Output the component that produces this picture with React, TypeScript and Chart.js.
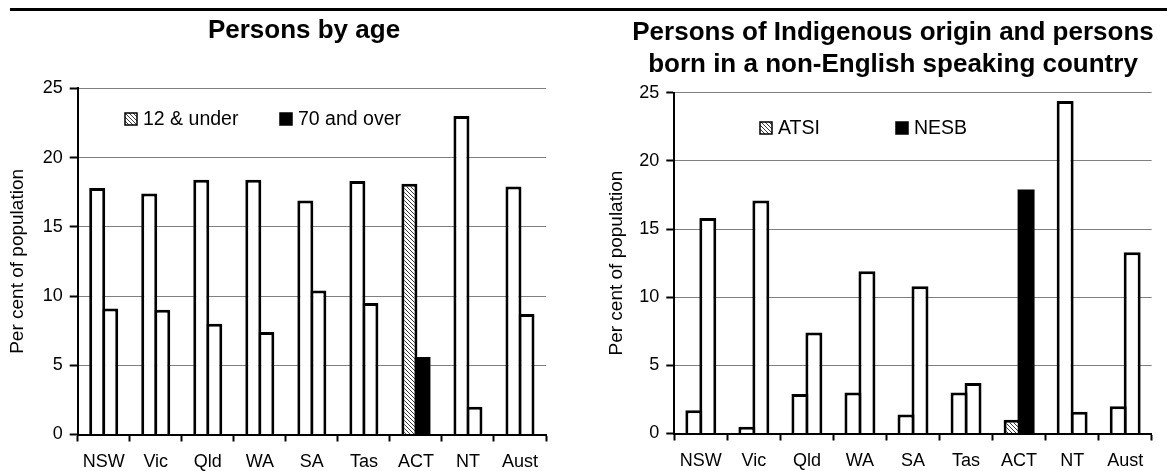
import React, { useEffect, useRef } from 'react';
import { Chart, registerables } from 'chart.js';

Chart.register(...registerables);

// Categories and values (per cent of population)
const STATES = ['NSW', 'Vic', 'Qld', 'WA', 'SA', 'Tas', 'ACT', 'NT', 'Aust'];
const HIGHLIGHT = 'ACT';

const AGE_12_UNDER = [17.8, 17.4, 18.4, 18.4, 16.9, 18.3, 18.1, 23.0, 17.9];
const AGE_70_OVER = [9.1, 9.0, 8.0, 7.4, 10.4, 9.5, 5.6, 2.0, 8.7];

const ATSI = [1.7, 0.5, 2.9, 3.0, 1.4, 3.0, 1.0, 24.4, 2.0];
const NESB = [15.8, 17.1, 7.4, 11.9, 10.8, 3.7, 17.9, 1.6, 13.3];

const Y_MIN = 0;
const Y_MAX = 25;
const Y_STEP = 5;

const FONT = 'Arial, "Liberation Sans", sans-serif';

function makeHatch(): CanvasPattern | string {
  const c = document.createElement('canvas');
  c.width = 4;
  c.height = 4;
  const g = c.getContext('2d');
  if (!g) return '#999';
  g.fillStyle = '#fff';
  g.fillRect(0, 0, 4, 4);
  g.strokeStyle = '#3a3a3a';
  g.lineWidth = 1;
  g.beginPath();
  g.moveTo(-1, -1);
  g.lineTo(5, 5);
  g.moveTo(-1, 3);
  g.lineTo(1, 5);
  g.moveTo(3, -1);
  g.lineTo(5, 1);
  g.stroke();
  return g.createPattern(c, 'repeat') || '#999';
}

// Multi-line bold heading drawn at a fixed centre
const panelTitle = {
  id: 'panelTitle',
  afterDraw(chart: any, _args: any, opts: any) {
    const { ctx } = chart;
    ctx.save();
    ctx.font = `bold ${opts.size}px ${FONT}`;
    ctx.fillStyle = '#000';
    ctx.textAlign = 'center';
    ctx.textBaseline = 'alphabetic';
    opts.lines.forEach((line: string, i: number) => {
      ctx.fillText(line, opts.x, opts.baseline + i * opts.lineGap);
    });
    ctx.restore();
  },
};

// Legend placed inside the plot area
const innerLegend = {
  id: 'innerLegend',
  afterDraw(chart: any, _args: any, opts: any) {
    const { ctx } = chart;
    ctx.save();
    ctx.font = `${opts.size}px ${FONT}`;
    ctx.textBaseline = 'middle';
    ctx.textAlign = 'left';
    chart.data.datasets.forEach((ds: any, i: number) => {
      const x = opts.xs[i];
      const y = opts.y;
      const b = opts.box;
      ctx.fillStyle = ds.legendFill;
      ctx.fillRect(x, y - b / 2, b, b);
      ctx.strokeStyle = '#000';
      ctx.lineWidth = 1.5;
      ctx.strokeRect(x, y - b / 2, b, b);
      ctx.fillStyle = '#000';
      ctx.fillText(ds.label, x + b + opts.gap, y + 1);
    });
    ctx.restore();
  },
};

type PanelProps = {
  left: number;
  width: number;
  labels: string[];
  series: { label: string; data: number[]; accent: 'hatch' | 'solid' }[];
  titleLines: string[];
  titleX: number;
  titleBaseline: number;
  plotLeft: number;
  plotRight: number;
  plotTop: number;
  plotBottom: number;
  yTitlePad: number;
  catPct: number;
  barPct: number;
  legendXs: number[];
  legendY: number;
};

const HEIGHT = 471;

function Panel(p: PanelProps) {
  const ref = useRef<HTMLCanvasElement | null>(null);

  useEffect(() => {
    if (!ref.current) return;
    const hatch = makeHatch();
    const hl = p.labels.indexOf(HIGHLIGHT);
    const fills = { hatch, solid: '#000' };

    const chart = new Chart(ref.current, {
      type: 'bar',
      data: {
        labels: p.labels,
        datasets: p.series.map((s) => ({
          label: s.label,
          data: s.data,
          legendFill: fills[s.accent],
          backgroundColor: (c: any) => (c.dataIndex === hl ? fills[s.accent] : '#fff'),
          borderColor: '#000',
          // a solid black bar needs no separate outline
          borderWidth: (c: any) => (c.dataIndex === hl && s.accent === 'solid' ? 0 : 3),
          categoryPercentage: p.catPct,
          barPercentage: p.barPct,
        })) as any,
      },
      options: {
        animation: false,
        responsive: false,
        maintainAspectRatio: false,
        layout: {
          padding: {
            left: 0,
            top: p.plotTop,
            right: p.width - p.plotRight,
            bottom: 0,
          },
        },
        plugins: {
          legend: { display: false },
          tooltip: { enabled: false },
          title: { display: false },
          panelTitle: {
            lines: p.titleLines,
            x: p.titleX,
            baseline: p.titleBaseline,
            lineGap: 32,
            size: 26,
          },
          innerLegend: {
            xs: p.legendXs,
            y: p.legendY,
            box: 12,
            gap: 6,
            size: 19.5,
          },
        } as any,
        scales: {
          x: {
            type: 'category',
            offset: true,
            grid: {
              offset: true,
              drawOnChartArea: false,
              drawTicks: true,
              tickLength: 7,
              tickColor: '#000',
              tickWidth: 2,
            },
            border: { display: true, color: '#000', width: 2 },
            ticks: {
              color: '#000',
              font: { family: FONT, size: 18 },
              padding: 10,
              maxRotation: 0,
              autoSkip: false,
            },
            afterFit: (s: any) => {
              s.height = HEIGHT - p.plotBottom;
            },
          },
          y: {
            min: Y_MIN,
            max: Y_MAX,
            grid: {
              color: '#808080',
              lineWidth: 1,
              tickColor: '#000',
              tickWidth: 2,
              tickLength: 8,
            },
            border: { display: true, color: '#000', width: 2 },
            ticks: {
              stepSize: Y_STEP,
              color: '#000',
              font: { family: FONT, size: 18 },
              padding: 7,
            },
            title: {
              display: true,
              text: 'Per cent of population',
              color: '#000',
              font: { family: FONT, size: 19 },
              padding: { top: p.yTitlePad, bottom: 0 },
            },
            afterFit: (s: any) => {
              s.width = p.plotLeft;
            },
          },
        },
      },
      plugins: [panelTitle, innerLegend],
    });
    return () => chart.destroy();
  }, []);

  return (
    <div style={{ position: 'absolute', left: p.left, top: 0, width: p.width, height: HEIGHT }}>
      <canvas ref={ref} width={p.width} height={HEIGHT} style={{ display: 'block' }} />
    </div>
  );
}

export default function App() {
  return (
    <div style={{ position: 'absolute', left: 0, top: 0, width: 1167, height: HEIGHT, background: '#fff' }}>
      <div style={{ position: 'absolute', left: 10, top: 7.5, width: 1157, borderTop: '3px solid #000' }} />
      <Panel
        left={0}
        width={583}
        labels={STATES}
        series={[
          { label: '12 & under', data: AGE_12_UNDER, accent: 'hatch' },
          { label: '70 and over', data: AGE_70_OVER, accent: 'solid' },
        ]}
        titleLines={['Persons by age']}
        titleX={304}
        titleBaseline={38}
        plotLeft={77.7}
        plotRight={546}
        plotTop={88.3}
        plotBottom={434.5}
        yTitlePad={6.6}
        catPct={0.5}
        barPct={1.231}
        legendXs={[125, 280]}
        legendY={119}
      />
      <Panel
        left={583}
        width={584}
        labels={STATES}
        series={[
          { label: 'ATSI', data: ATSI, accent: 'hatch' },
          { label: 'NESB', data: NESB, accent: 'solid' },
        ]}
        titleLines={['Persons of Indigenous origin and persons', 'born in a non-English speaking country']}
        titleX={310}
        titleBaseline={40}
        plotLeft={91.3}
        plotRight={568.7}
        plotTop={92.7}
        plotBottom={433.5}
        yTitlePad={22.6}
        catPct={0.527}
        barPct={1.214}
        legendXs={[177, 313]}
        legendY={128}
      />
    </div>
  );
}
